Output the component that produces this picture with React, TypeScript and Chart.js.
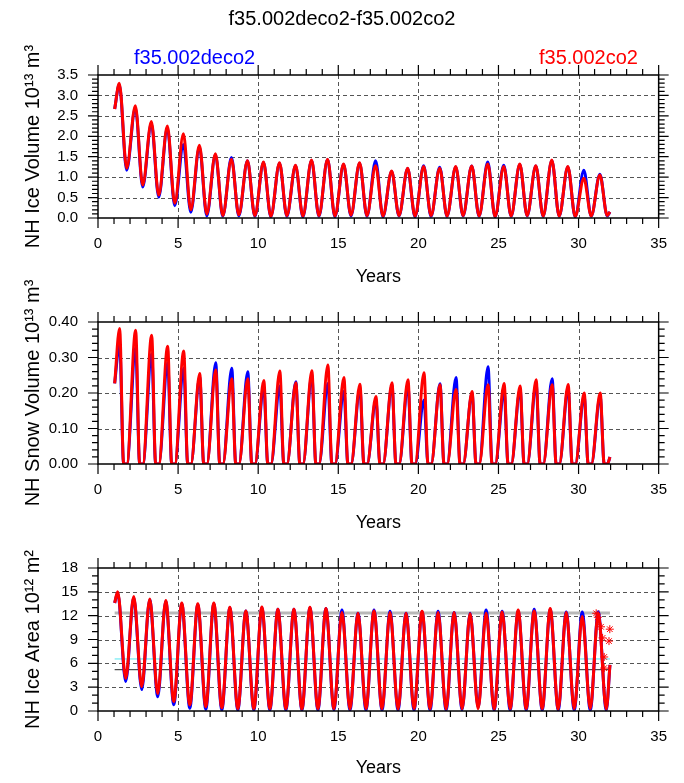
import React, { useEffect, useRef } from 'react';
import { Chart, registerables } from 'chart.js';
Chart.register(...registerables);

const FONT = '"Liberation Sans", Arial, Helvetica, sans-serif';

// ---------- data ----------
const YEARS = [1, 2, 3, 4, 5, 6, 7, 8, 9, 10, 11, 12, 13, 14, 15, 16, 17, 18, 19, 20, 21, 22, 23, 24, 25, 26, 27, 28, 29, 30, 31];
const YEAR_TICKS = [0, 5, 10, 15, 20, 25, 30, 35];
const VOL_TICKS = [0, 0.5, 1.0, 1.5, 2.0, 2.5, 3.0, 3.5];
const SNOW_TICKS = [0, 0.1, 0.2, 0.3, 0.4];
const AREA_TICKS = [0, 3, 6, 9, 12, 15, 18];

// phase within each year (fraction of year) of maxima / minima
const VOL_PHASE = { peak: 0.33, trough: 0.79 };
const SNOW_PHASE = { peak: 0.35, zeroStart: 0.6, zeroEnd: 0.8 };
const AREA_PHASE = { peak: 0.23, trough: 0.73 };
const FIRST_X = 1.04;
const LAST_X = 31.96;

// NH ice volume (10^13 m^3)
const VOL_PEAK_BLUE = [3.27, 2.70, 2.31, 2.20, 1.80, 1.74, 1.55, 1.48, 1.40, 1.36, 1.34, 1.28, 1.41, 1.43, 1.31, 1.34, 1.40, 1.14, 1.21, 1.28, 1.24, 1.25, 1.27, 1.37, 1.29, 1.31, 1.27, 1.41, 1.25, 1.17, 1.07];
const VOL_TROUGH_BLUE = [1.17, 0.76, 0.51, 0.30, 0.14, 0.05, 0.04, 0.05, 0.04, 0.03, 0.04, 0.03, 0.04, 0.03, 0.05, 0.04, 0.03, 0.05, 0.03, 0.04, 0.04, 0.05, 0.04, 0.03, 0.04, 0.05, 0.04, 0.04, 0.03, 0.04, 0.05];
const VOL_PEAK_RED = [3.30, 2.75, 2.36, 2.25, 2.06, 1.78, 1.57, 1.44, 1.40, 1.37, 1.35, 1.29, 1.42, 1.44, 1.32, 1.35, 1.28, 1.15, 1.22, 1.26, 1.22, 1.26, 1.27, 1.32, 1.26, 1.32, 1.28, 1.42, 1.26, 0.97, 1.05];
const VOL_TROUGH_RED = [1.22, 0.81, 0.56, 0.36, 0.20, 0.10, 0.06, 0.08, 0.06, 0.04, 0.06, 0.05, 0.06, 0.05, 0.07, 0.06, 0.05, 0.06, 0.05, 0.06, 0.05, 0.06, 0.05, 0.04, 0.05, 0.06, 0.05, 0.05, 0.04, 0.05, 0.06];
const VOL_START = [2.67, 2.67]; // blue, red
const VOL_END = [0.15, 0.15];

// NH snow volume (10^13 m^3)
const SNOW_PEAK_BLUE = [0.340, 0.327, 0.310, 0.285, 0.270, 0.245, 0.285, 0.270, 0.260, 0.215, 0.220, 0.232, 0.250, 0.227, 0.205, 0.212, 0.180, 0.222, 0.220, 0.180, 0.226, 0.244, 0.200, 0.274, 0.205, 0.210, 0.225, 0.240, 0.212, 0.190, 0.190];
const SNOW_PEAK_RED = [0.382, 0.377, 0.363, 0.332, 0.318, 0.255, 0.265, 0.240, 0.240, 0.235, 0.262, 0.229, 0.263, 0.279, 0.244, 0.225, 0.190, 0.229, 0.237, 0.257, 0.223, 0.210, 0.204, 0.223, 0.227, 0.220, 0.237, 0.223, 0.224, 0.200, 0.200];
const SNOW_START = [0.227, 0.227];
const SNOW_END = [0.02, 0.02];

// NH ice area (10^12 m^2)
const AREA_PEAK_BLUE = [14.9, 14.3, 14.0, 13.8, 13.5, 13.4, 13.5, 13.0, 12.6, 13.0, 12.8, 12.8, 13.0, 12.9, 12.7, 12.3, 12.7, 12.55, 12.3, 12.5, 12.55, 12.4, 12.3, 12.7, 12.55, 12.6, 12.8, 12.8, 12.45, 12.45, 12.5];
const AREA_TROUGH_BLUE = [3.7, 2.7, 1.8, 0.8, 0.35, 0.2, 0.12, 0.1, 0.1, 0.1, 0.1, 0.1, 0.1, 0.15, 0.1, 0.1, 0.1, 0.1, 0.1, 0.1, 0.1, 0.15, 0.5, 0.1, 0.1, 0.1, 0.1, 0.1, 0.1, 0.1, 0.1];
const AREA_PEAK_RED = [15.0, 14.4, 14.1, 13.9, 13.6, 13.5, 13.6, 13.05, 12.6, 13.1, 12.8, 12.8, 13.05, 12.9, 12.4, 12.3, 12.6, 12.4, 12.3, 12.55, 12.4, 12.4, 12.25, 12.3, 12.45, 12.7, 12.6, 12.9, 12.4, 11.9, 12.3];
const AREA_TROUGH_RED = [4.1, 3.06, 2.2, 1.2, 0.75, 0.55, 0.4, 0.3, 0.3, 0.3, 0.3, 0.25, 0.3, 0.3, 0.25, 0.3, 0.3, 0.25, 0.3, 0.3, 0.25, 0.3, 0.3, 0.25, 0.3, 0.3, 0.3, 0.25, 0.3, 0.3, 0.25];
const AREA_START = [13.6, 13.6];
const AREA_END = [5.8, 5.8];
const AREA_REF_LINES = [12.35, 6.55, 5.2]; // gray, cyan, black
const STAR_X = [31.1, 31.2, 31.4, 31.95, 31.5, 31.9, 31.6, 31.6];
const STAR_Y = [12.3, 11.8, 10.6, 10.3, 9.2, 8.8, 6.8, 5.4];

// ---------- helpers ----------
type P = { x: number; y: number };
function wave(start: number, end: number, peaks: number[], troughs: number[], ph: { peak: number; trough: number }): P[] {
  const pts: P[] = [{ x: FIRST_X, y: start }];
  YEARS.forEach((yr, i) => {
    pts.push({ x: yr + ph.peak, y: peaks[i] });
    pts.push({ x: yr + ph.trough, y: troughs[i] });
  });
  pts.push({ x: LAST_X, y: end });
  return pts;
}
function snowWave(start: number, end: number, peaks: number[]): P[] {
  const pts: P[] = [{ x: FIRST_X, y: start }];
  YEARS.forEach((yr, i) => {
    pts.push({ x: yr + SNOW_PHASE.peak, y: peaks[i] });
    pts.push({ x: yr + SNOW_PHASE.zeroStart, y: 0 });
    pts.push({ x: yr + SNOW_PHASE.zeroEnd, y: 0 });
  });
  pts.push({ x: LAST_X, y: end });
  return pts;
}

function series(data: P[], color: string, order: number) {
  return {
    data, borderColor: color, backgroundColor: color, borderWidth: 3, pointRadius: 0,
    cubicInterpolationMode: 'monotone', fill: false, order,
  };
}

const nclPlugin = {
  id: 'ncl',
  beforeDatasetsDraw(chart: any, _a: any, o: any) {
    const { ctx, chartArea: a, scales } = chart;
    const xs = scales.x, ys = scales.y;
    ctx.save();
    ctx.strokeStyle = '#555';
    ctx.lineWidth = 1;
    ctx.setLineDash([4, 3]);
    ctx.beginPath();
    for (const v of o.xMajor) {
      if (v <= xs.min || v >= xs.max) continue;
      const p = Math.round(xs.getPixelForValue(v)) + 0.5;
      ctx.moveTo(p, a.top); ctx.lineTo(p, a.bottom);
    }
    for (const v of o.yMajor) {
      if (v <= ys.min || v >= ys.max) continue;
      const p = Math.round(ys.getPixelForValue(v)) + 0.5;
      ctx.moveTo(a.left, p); ctx.lineTo(a.right, p);
    }
    ctx.stroke();
    ctx.restore();
  },
  afterDraw(chart: any, _a: any, o: any) {
    const { ctx, chartArea: a, scales } = chart;
    const xs = scales.x, ys = scales.y;
    ctx.save();
    ctx.strokeStyle = '#000';
    ctx.lineWidth = 1.5;
    ctx.strokeRect(a.left, a.top, a.right - a.left, a.bottom - a.top);
    const MAJ = 10, MIN = 6;
    ctx.beginPath();
    const isMajor = (v: number, arr: number[]) => arr.some((m) => Math.abs(m - v) < 1e-6);
    for (let v = xs.min; v <= xs.max + 1e-6; v += o.xMinor) {
      const len = isMajor(v, o.xMajor) ? MAJ : MIN;
      const p = xs.getPixelForValue(v);
      ctx.moveTo(p, a.bottom); ctx.lineTo(p, a.bottom + len);
      ctx.moveTo(p, a.top); ctx.lineTo(p, a.top - len);
    }
    for (let k = 0; ys.min + k * o.yMinor <= ys.max + 1e-6; k++) {
      const v = ys.min + k * o.yMinor;
      const len = isMajor(v, o.yMajor) ? MAJ : MIN;
      const p = ys.getPixelForValue(v);
      ctx.moveTo(a.left, p); ctx.lineTo(a.left - len, p);
      ctx.moveTo(a.right, p); ctx.lineTo(a.right + len, p);
    }
    ctx.lineWidth = 1.2;
    ctx.stroke();
    // y-axis title (rotated), free of the chart-area width limit
    ctx.fillStyle = '#000';
    ctx.font = `20px ${FONT}`;
    ctx.textAlign = 'center';
    ctx.textBaseline = 'middle';
    ctx.translate(o.titleX, (a.top + a.bottom) / 2);
    ctx.rotate(-Math.PI / 2);
    ctx.fillText(o.yTitle, 0, 0);
    ctx.restore();
  },
};

function makeConfig(p: {
  datasets: any[]; padTop: number; xH: number; yMax: number; yTicks: number[]; yMinor: number;
  decimals: number; yTitle: string; yearsPad: number;
}) {
  return {
    type: 'line',
    data: { datasets: p.datasets },
    plugins: [nclPlugin],
    options: {
      animation: false,
      responsive: false,
      maintainAspectRatio: false,
      layout: { padding: { top: p.padTop, right: 12, bottom: 0, left: 0 } },
      plugins: {
        legend: { display: false },
        tooltip: { enabled: false },
        title: { display: false },
        ncl: { xMajor: YEAR_TICKS, xMinor: 1, yMajor: p.yTicks, yMinor: p.yMinor, yTitle: p.yTitle, titleX: 33 },
      },
      scales: {
        x: {
          type: 'linear', min: 0, max: 35,
          afterBuildTicks: (s: any) => { s.ticks = YEAR_TICKS.map((value) => ({ value })); },
          grid: { display: false, drawTicks: false },
          border: { display: false },
          ticks: { padding: 17, color: '#000', autoSkip: false, maxRotation: 0, font: { family: FONT, size: 15 }, callback: (v: any) => String(v) },
          title: { display: true, text: 'Years', color: '#000', font: { family: FONT, size: 18 }, padding: { top: 0, bottom: p.yearsPad } },
          afterFit: (s: any) => { s.height = p.xH; },
        },
        y: {
          type: 'linear', min: 0, max: p.yMax,
          afterBuildTicks: (s: any) => { s.ticks = p.yTicks.map((value) => ({ value })); },
          grid: { display: false, drawTicks: false },
          border: { display: false },
          ticks: { padding: 20, color: '#000', autoSkip: false, font: { family: FONT, size: 15 }, callback: (v: any) => Number(v).toFixed(p.decimals) },
          title: { display: false },
          afterFit: (s: any) => { s.width = 98; },
        },
      },
    },
  };
}

function Panel({ config, top, height }: { config: any; top: number; height: number }) {
  const ref = useRef<HTMLCanvasElement>(null);
  useEffect(() => {
    const chart = new Chart(ref.current as HTMLCanvasElement, config);
    return () => chart.destroy();
  }, []);
  return <canvas ref={ref} width={684} height={height} style={{ position: 'absolute', left: 0, top, width: 684, height, display: 'block' }} />;
}

const volCfg = makeConfig({
  datasets: [
    series(wave(VOL_START[1], VOL_END[1], VOL_PEAK_RED, VOL_TROUGH_RED, VOL_PHASE), '#ff0000', 1),
    series(wave(VOL_START[0], VOL_END[0], VOL_PEAK_BLUE, VOL_TROUGH_BLUE, VOL_PHASE), '#0000ff', 2),
  ],
  padTop: 75, xH: 72, yMax: 3.5, yTicks: VOL_TICKS, yMinor: 0.1, decimals: 1,
  yTitle: 'NH Ice Volume 10¹³ m³', yearsPad: 2,
});

const snowCfg = makeConfig({
  datasets: [
    series(snowWave(SNOW_START[1], SNOW_END[1], SNOW_PEAK_RED), '#ff0000', 1),
    series(snowWave(SNOW_START[0], SNOW_END[0], SNOW_PEAK_BLUE), '#0000ff', 2),
  ],
  padTop: 52, xH: 71, yMax: 0.4, yTicks: SNOW_TICKS, yMinor: 0.02, decimals: 2,
  yTitle: 'NH Snow Volume 10¹³ m³', yearsPad: 1,
});

const refColors = ['#b8b8b8', '#55e6f0', '#222222'];
const refWidths = [3, 1, 1];
const areaCfg = makeConfig({
  datasets: [
    {
      data: STAR_X.map((x, i) => ({ x, y: STAR_Y[i] })), showLine: false, pointStyle: 'star',
      pointRadius: 4, borderColor: '#ff0000', backgroundColor: '#ff0000', borderWidth: 1, order: 0,
    },
    series(wave(AREA_START[1], AREA_END[1], AREA_PEAK_RED, AREA_TROUGH_RED, AREA_PHASE), '#ff0000', 1),
    series(wave(AREA_START[0], AREA_END[0], AREA_PEAK_BLUE, AREA_TROUGH_BLUE, AREA_PHASE), '#0000ff', 2),
    ...AREA_REF_LINES.map((v, i) => ({
      data: [{ x: FIRST_X, y: v }, { x: LAST_X, y: v }], borderColor: refColors[i], borderWidth: refWidths[i],
      pointRadius: 0, fill: false, order: 3,
    })),
  ],
  padTop: 53, xH: 72, yMax: 18, yTicks: AREA_TICKS, yMinor: 1, decimals: 0,
  yTitle: 'NH Ice Area 10¹² m²', yearsPad: 4,
});

export default function App() {
  const text: React.CSSProperties = { position: 'absolute', fontFamily: FONT, fontSize: 20, lineHeight: '20px', whiteSpace: 'nowrap', zIndex: 2 };
  return (
    <div style={{ position: 'absolute', left: 0, top: 0, width: 684, height: 783, background: '#fff', overflow: 'hidden' }}>
      <Panel config={volCfg} top={0} height={290} />
      <Panel config={snowCfg} top={270} height={265} />
      <Panel config={areaCfg} top={515} height={268} />
      <div style={{ ...text, left: 0, width: 684, top: 8, textAlign: 'center', color: '#000' }}>f35.002deco2-f35.002co2</div>
      <div style={{ ...text, left: 134, top: 47, color: '#0000ff' }}>f35.002deco2</div>
      <div style={{ ...text, left: 539, top: 47, color: '#ff0000' }}>f35.002co2</div>
    </div>
  );
}
